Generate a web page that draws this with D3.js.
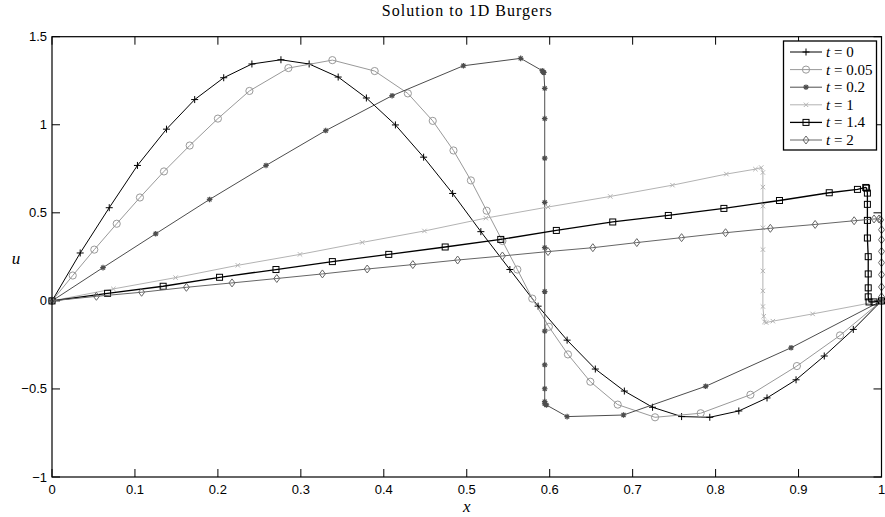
<!DOCTYPE html>
<html><head><meta charset="utf-8">
<script src="https://cdn.jsdelivr.net/npm/d3@7"></script>
<style>
html,body{margin:0;padding:0;background:#fff;}
svg{display:block;}
</style></head>
<body>
<svg id="chart" width="885" height="517"></svg>
<script>
// ---- data ----
const xT0 = [0,0.034,0.069,0.103,0.138,0.172,0.207,0.241,0.276,0.310,0.345,0.379,0.414,0.448,0.483,0.517,0.552,0.586,0.621,0.655,0.690,0.724,0.759,0.793,0.828,0.862,0.897,0.931,0.966,1];
const uT0 = [0,0.272,0.529,0.769,0.975,1.143,1.267,1.345,1.369,1.345,1.271,1.152,0.999,0.816,0.610,0.393,0.178,-0.030,-0.223,-0.387,-0.512,-0.604,-0.657,-0.661,-0.625,-0.551,-0.448,-0.313,-0.162,0];

const xT005 = [0,0.025,0.051,0.078,0.106,0.135,0.166,0.200,0.238,0.285,0.338,0.389,0.429,0.459,0.484,0.505,0.524,0.543,0.561,0.579,0.599,0.622,0.649,0.682,0.727,0.782,0.842,0.898,0.950,1];
const uT005 = [0,0.144,0.291,0.438,0.587,0.735,0.882,1.035,1.192,1.322,1.367,1.305,1.178,1.022,0.854,0.684,0.512,0.340,0.178,0.013,-0.147,-0.304,-0.459,-0.589,-0.661,-0.638,-0.533,-0.370,-0.196,0];

const xT02 = [0,0.0615,0.125,0.190,0.258,0.330,0.410,0.496,0.565,0.591,0.592,0.593,0.594,0.594,0.594,0.594,0.594,0.594,0.594,0.594,0.594,0.594,0.594,0.596,0.621,0.689,0.788,0.891,1];
const uT02 = [0,0.189,0.381,0.576,0.769,0.967,1.165,1.335,1.377,1.307,1.300,1.297,1.207,1.035,0.810,0.559,0.302,0.053,-0.172,-0.363,-0.499,-0.572,-0.585,-0.591,-0.657,-0.648,-0.485,-0.266,0];

const xT1 = [0,0.074,0.149,0.224,0.299,0.374,0.449,0.523,0.598,0.673,0.748,0.813,0.848,0.855,0.857,0.857,0.857,0.857,0.857,0.857,0.857,0.857,0.858,0.859,0.861,0.869,0.917,1];
const uT1 = [0,0.068,0.132,0.202,0.264,0.332,0.397,0.470,0.533,0.593,0.657,0.720,0.748,0.757,0.729,0.646,0.538,0.415,0.291,0.170,0.057,-0.032,-0.087,-0.119,-0.123,-0.115,-0.074,0];

const xT14 = [0,0.067,0.134,0.202,0.270,0.338,0.406,0.474,0.541,0.608,0.676,0.743,0.810,0.877,0.937,0.971,0.981,0.982,0.983,0.983,0.983,0.983,0.984,0.984,0.984,0.984,0.985,0.991,1];
const uT14 = [0,0.043,0.083,0.134,0.178,0.223,0.264,0.306,0.349,0.400,0.448,0.485,0.525,0.570,0.614,0.633,0.644,0.640,0.612,0.548,0.457,0.357,0.251,0.153,0.074,0.023,-0.006,-0.006,0];

const xT2 = [0,0.0535,0.108,0.162,0.217,0.271,0.326,0.380,0.435,0.489,0.543,0.598,0.652,0.705,0.759,0.812,0.866,0.920,0.967,0.991,0.997,0.999,1,1,1,1,1,1,1,1];
const uT2 = [0,0.026,0.049,0.077,0.102,0.127,0.153,0.181,0.206,0.232,0.255,0.280,0.302,0.331,0.359,0.387,0.412,0.434,0.455,0.465,0.465,0.460,0.404,0.347,0.281,0.217,0.149,0.079,0.023,0];

const seriesLabels = ["0","0.05","0.2","1","1.4","2"];
const xTicks = [0,0.1,0.2,0.3,0.4,0.5,0.6,0.7,0.8,0.9,1];
const yTicks = [-1,-0.5,0,0.5,1,1.5];

// ---- styles ----
const styles = [
  {x:xT0,   u:uT0,   color:"#000000", w:1.0, marker:"plus"},
  {x:xT005, u:uT005, color:"#999999", w:1.0, marker:"circle"},
  {x:xT02,  u:uT02,  color:"#4d4d4d", w:1.0, marker:"star"},
  {x:xT1,   u:uT1,   color:"#b3b3b3", w:1.0, marker:"cross"},
  {x:xT14,  u:uT14,  color:"#000000", w:1.3, marker:"square"},
  {x:xT2,   u:uT2,   color:"#666666", w:1.0, marker:"diamond"}
];

const svg = d3.select("#chart");
const L = 52, R = 881.5, T = 36.7, B = 477;
const xs = d3.scaleLinear().domain([0,1]).range([L,R]);
const ys = d3.scaleLinear().domain([-1,1.5]).range([B,T]);

function drawMarker(g, type, cx, cy, color){
  const s = g.append("g").attr("transform",`translate(${cx},${cy})`)
    .attr("stroke",color).attr("fill","none").attr("stroke-width",1);
  if(type==="plus"){
    s.append("path").attr("d","M-3.5,0H3.5M0,-3.5V3.5");
  } else if(type==="circle"){
    s.append("circle").attr("r",3.6);
  } else if(type==="star"){
    s.append("path").attr("d","M-2.8,0H2.8M0,-2.8V2.8M-2,-2L2,2M-2,2L2,-2").attr("stroke-width",1.2);
  } else if(type==="cross"){
    s.append("path").attr("d","M-2.2,-2.2L2.2,2.2M-2.2,2.2L2.2,-2.2");
  } else if(type==="square"){
    s.append("rect").attr("x",-3).attr("y",-3).attr("width",6).attr("height",6);
  } else if(type==="diamond"){
    s.append("path").attr("d","M0,-4L3,0L0,4L-3,0Z");
  }
}

// frame ticks
const axG = svg.append("g");
const tickLen = 8;
xTicks.forEach(v=>{
  axG.append("line").attr("x1",xs(v)).attr("x2",xs(v)).attr("y1",B).attr("y2",B-tickLen).attr("stroke","#000");
  axG.append("line").attr("x1",xs(v)).attr("x2",xs(v)).attr("y1",T).attr("y2",T+tickLen).attr("stroke","#000");
});
yTicks.forEach(v=>{
  axG.append("line").attr("x1",L).attr("x2",L+tickLen).attr("y1",ys(v)).attr("y2",ys(v)).attr("stroke","#000");
  axG.append("line").attr("x1",R).attr("x2",R-tickLen).attr("y1",ys(v)).attr("y2",ys(v)).attr("stroke","#000");
});

// series
const line = d3.line().x(d=>xs(d[0])).y(d=>ys(d[1]));
styles.forEach(st=>{
  const pts = st.x.map((xv,i)=>[xv, st.u[i]]);
  svg.append("path").datum(pts).attr("d",line).attr("fill","none")
    .attr("stroke",st.color).attr("stroke-width",st.w);
  const mg = svg.append("g");
  pts.forEach(p=>drawMarker(mg, st.marker, xs(p[0]), ys(p[1]), st.color));
});

// frame box
svg.append("rect").attr("x",L).attr("y",T).attr("width",R-L).attr("height",B-T)
  .attr("fill","none").attr("stroke","#000").attr("stroke-width",1.2);

// tick labels
const fmt = v => (v<0?"\u2212":"") + String(Math.abs(v));
xTicks.forEach(v=>{
  svg.append("text").attr("x",xs(v)).attr("y",B+17).attr("text-anchor","middle")
    .attr("font-family","Liberation Sans, Arial, sans-serif").attr("font-size",13).text(fmt(v));
});
yTicks.forEach(v=>{
  svg.append("text").attr("x",L-5).attr("y",ys(v)+4.5).attr("text-anchor","end")
    .attr("font-family","Liberation Sans, Arial, sans-serif").attr("font-size",13).text(fmt(v));
});

// titles
svg.append("text").attr("x",(L+R)/2).attr("y",16).attr("text-anchor","middle")
  .attr("font-family","Liberation Serif, Times New Roman, serif").attr("font-size",16)
  .attr("textLength",170).attr("lengthAdjust","spacing")
  .text("Solution to 1D Burgers");
svg.append("text").attr("x",(L+R)/2).attr("y",512).attr("text-anchor","middle")
  .attr("font-family","Liberation Serif, serif").attr("font-style","italic").attr("font-size",17).text("x");
svg.append("text").attr("x",16).attr("y",264).attr("text-anchor","middle")
  .attr("font-family","Liberation Serif, serif").attr("font-style","italic").attr("font-size",17).text("u");

// legend
const lg = svg.append("g");
const lx0 = 783.5, ly0 = 41, lw = 93, lh = 109;
lg.append("rect").attr("x",lx0).attr("y",ly0).attr("width",lw).attr("height",lh)
  .attr("fill","#fff").attr("stroke","#000").attr("stroke-width",1.3);
styles.forEach((st,i)=>{
  const yy = 52 + i*17.6;
  lg.append("line").attr("x1",790).attr("x2",822).attr("y1",yy).attr("y2",yy)
    .attr("stroke",st.color).attr("stroke-width",st.w);
  drawMarker(lg, st.marker, 806, yy, st.color);
  const t = lg.append("text").attr("x",826).attr("y",yy+5)
    .attr("font-family","Liberation Serif, serif").attr("font-size",15);
  t.append("tspan").attr("font-style","italic").text("t");
  t.append("tspan").text(" = " + seriesLabels[i]);
});
</script>
</body></html>
